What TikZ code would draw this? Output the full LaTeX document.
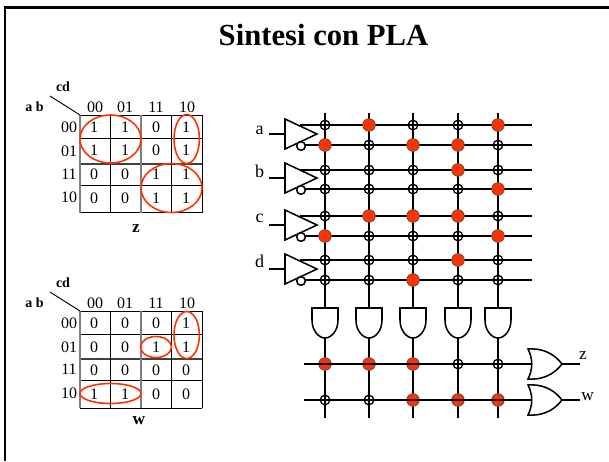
\documentclass[tikz,border=0pt]{standalone}
\usepackage{fontspec}
\setmainfont{Liberation Serif}
\definecolor{redfill}{HTML}{FF3300}
\tikzset{x=0.75pt,y=-0.75pt,
 wire/.style={draw=black,line width=1.35pt},
 gridl/.style={draw=black,line width=0.7pt},
 gridg/.style={draw=gray,line width=1.1pt},
 loop/.style={draw=redfill,line width=1.2pt},
 gate/.style={draw=black,line width=1.15pt,fill=white},
 fuseon/.style={circle,draw=black!70,line width=0.5pt,fill=redfill,minimum size=9.5pt,inner sep=0pt},
 fuseoff/.style={circle,draw=black,line width=1pt,fill=none,minimum size=7.2pt,inner sep=0pt,path picture={\draw[black,line width=1pt] (path picture bounding box.north)--(path picture bounding box.south) (path picture bounding box.west)--(path picture bounding box.east);}},
 txt/.style={font=\fontsize{12pt}{14pt}\selectfont,inner sep=0pt,text=black},
 btxt/.style={font=\fontsize{10.5pt}{12pt}\selectfont\bfseries,inner sep=0pt},
}
\begin{document}
\begin{tikzpicture}
\useasboundingbox (0,0) rectangle (609,461);
\fill[white] (0,0) rectangle (609,461);
\draw[black,line width=1.9pt] (4.8,461) -- (4.8,7.3) -- (609,7.3);
\node[font=\fontsize{23pt}{26pt}\selectfont\bfseries,inner sep=0pt] (title) at (323.5,35) {Sintesi con PLA};

% K-map 1
\foreach \yy in {115,138,185,212.7} \draw[gridl] (80,\yy)--(202,\yy);
\draw[gridl,line width=1.1pt,draw=black!75] (80,164)--(202,164);
\draw[gridg] (80,115)--(80,212.7);
\draw[gridg] (141,115)--(141,212.7);
\draw[gridl] (110.5,115)--(110.5,212.7) (171.5,115)--(171.5,212.7) (202,115)--(202,212.7);
\coordinate (k1a) at (50,96);\coordinate (k1b) at (80,115);
\draw[gridl] (k1a)--(k1b);
\node[btxt] (k1cd) at (63,87) {cd};
\node[btxt] (k1ab) at (34.5,106.5) {a b};
\node[btxt,font=\fontsize{13pt}{14pt}\selectfont\bfseries] (k1z) at (136,228.5) {z};
\foreach \t/\x in {00/95,01/125,11/156,10/187}{\node[txt] at (\x,107) {\t};}
\foreach \t/\y in {00/127,01/151,11/174,10/197}{\node[txt] at (69,\y) {\t};}
\foreach \x/\a/\b/\c/\d in {94/1/1/0/0,125/1/1/0/0,156/0/0/1/1,186/1/1/1/1}{
 \node[txt] at (\x,127.5) {\a};\node[txt] at (\x,150.5) {\b};\node[txt] at (\x,174) {\c};\node[txt] at (\x,198) {\d};}
\draw[loop] (110.5,139) ellipse (30.5 and 24);
\draw[loop] (186.7,139) ellipse (12.7 and 24.5);
\draw[loop] (171.5,188) ellipse (30.5 and 24.5);

% K-map 2
\foreach \yy in {311,334,380,408} \draw[gridl] (80,\yy)--(202,\yy);
\draw[gridl,line width=1.1pt,draw=black!75] (80,359)--(202,359);
\draw[gridg] (80,311)--(80,408);
\draw[gridg] (141,311)--(141,408);
\draw[gridl] (110.5,311)--(110.5,408) (171.5,311)--(171.5,408) (202,311)--(202,408);
\coordinate (k2a) at (50,292);\coordinate (k2b) at (80,311);
\draw[gridl] (k2a)--(k2b);
\node[btxt] (k2cd) at (63,283) {cd};
\node[btxt] (k2ab) at (34.5,302.5) {a b};
\node[btxt,font=\fontsize{13pt}{14pt}\selectfont\bfseries] (k2w) at (139,420.5) {w};
\foreach \t/\x in {00/95,01/125,11/156,10/187}{\node[txt] at (\x,303) {\t};}
\foreach \t/\y in {00/323,01/347,11/369,10/393}{\node[txt] at (69,\y) {\t};}
\foreach \x/\a/\b/\c/\d in {94/0/0/0/1,125/0/0/0/1,156/0/1/0/0,186/1/1/0/0}{
 \node[txt] at (\x,323) {\a};\node[txt] at (\x,347) {\b};\node[txt] at (\x,370) {\c};\node[txt] at (\x,394) {\d};}
\draw[loop] (186.7,335) ellipse (12.7 and 23.5);
\draw[loop] (156,347) ellipse (15.5 and 10.5);
\draw[loop] (110.5,393.5) ellipse (30.5 and 10);

% verticals top
\foreach \n/\x in {1/325,2/369,3/413,4/458,5/498}{
 \coordinate (vt\n) at (\x,113);
 \coordinate (vb\n) at (\x,308);
 \coordinate (at\n) at (\x,338);
 \coordinate (ve\n) at (\x,418);
 \draw[wire] (vt\n)--(vb\n);
 \draw[wire] (at\n)--(ve\n);
 \draw[gate] (\x-13,308) -- (\x+13,308) -- (\x+13,320) .. controls (\x+13,331) and (\x+6,338) .. (\x,338) .. controls (\x-6,338) and (\x-13,331) .. (\x-13,320) -- cycle;
}
% horizontals and inverters
\foreach \n/\lab/\yu/\yl/\ym/\ly in {a/a/125/145/134/130,b/b/170/189/178/171.5,c/c/216/236/225/218,d/d/260/280/269/261.5}{
 \coordinate (in\n) at (269,\ym);
 \draw[wire] (300,\yu)--(532,\yu);
 \draw[wire] (305,\yl)--(532,\yl);
 \draw[wire] (in\n)--(285,\ym);
 \draw[gate] (285,\ym-15)--(317,\ym)--(285,\ym+15)--cycle;
 \node[gate,circle,inner sep=0pt,minimum size=6.5pt] at (301,\ym+12) {};
 \node[txt,font=\fontsize{13.5pt}{15pt}\selectfont] at (259.5,\ly) {\lab};
}
% fuses
\foreach \y/\pat in {125/{0,1,0,0,1},145/{1,0,1,1,0},170/{0,0,0,1,0},189/{0,0,0,0,1},216/{0,1,1,1,0},236/{1,0,0,0,1},260/{0,0,0,1,0},280/{0,0,1,0,0},364/{1,1,1,0,0},400/{0,0,1,1,1}}{
 \foreach \v [count=\i] in \pat {
  \pgfmathsetmacro{\xx}{{325,369,413,458,498}[\i-1]}
  \ifnum\v=1 \node[fuseon] at (\xx,\y) {}; \else \node[fuseoff] at (\xx,\y) {}; \fi
 }
}
% bottom rows and ORs
\foreach \n/\y/\lab/\lx/\ly in {z/364/z/583/356,w/400/w/587.5/396.5}{
 \coordinate (or\n) at (532,\y);
 \coordinate (out\n) at (580,\y);
 \draw[wire] (304,\y)--(or\n);
 \draw[wire] (562,\y)--(out\n);
 \draw[gate] (528,\y-15) .. controls (540,\y-16) and (553,\y-12) .. (562,\y) .. controls (553,\y+12) and (540,\y+16) .. (528,\y+15) .. controls (533,\y+5) and (533,\y-5) .. (528,\y-15) -- cycle;
 \node[txt,font=\fontsize{13pt}{15pt}\selectfont] at (\lx,\ly) {\lab};
}
\end{tikzpicture}
\end{document}
